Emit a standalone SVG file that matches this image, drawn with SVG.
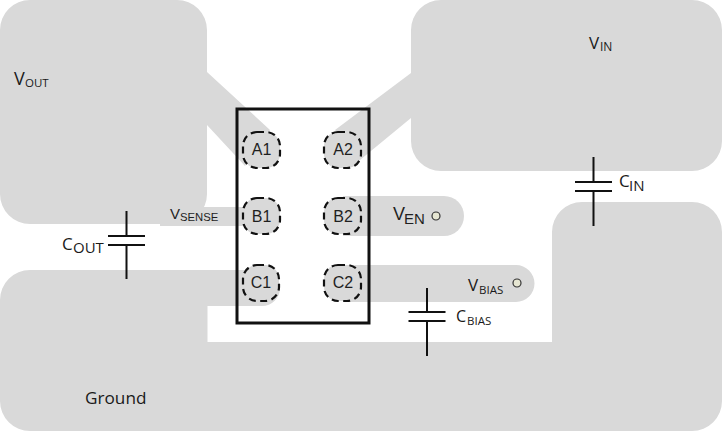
<svg xmlns="http://www.w3.org/2000/svg" width="723" height="432" viewBox="0 0 723 432">
<style>
.g{fill:#d9d9d9}
.t{font-family:"Open Sans","Noto Sans",sans-serif;fill:#1a1a1a}
.a{font-family:"Liberation Sans",Arial,sans-serif;fill:#1f1f1f}
.pad{fill:#d9d9d9;stroke:#111;stroke-width:2.2;stroke-dasharray:7 4.500}
.cap{stroke:#111;stroke-width:2;fill:none}
.pt{fill:#e6e6d2;stroke:#333;stroke-width:1.2}
</style>
<g id="copper">
<path id="vout" class="g" d="M30 0H177A30 30 0 0 1 207 30V72L270 130L245 166L207 125V194A30 30 0 0 1 177 224H30A30 30 0 0 1 0 194V30A30 30 0 0 1 30 0Z"/>
<path id="vin" class="g" d="M441 0H692A30 30 0 0 1 722 30V141A30 30 0 0 1 692 171H441A30 30 0 0 1 411 141V118L360 160L335 130L411 73V30A30 30 0 0 1 441 0Z"/>
<rect id="vsense" class="g" x="160" y="207" width="101" height="19"/>
<path id="ven" class="g" d="M343 196H444A20 20 0 0 1 444 236H343Z"/>
<path id="vbias" class="g" d="M343 265H516A18.500 18.500 0 0 1 516 302H343Z"/>
<path id="ground" class="g" d="M30 270H262A18 18 0 0 1 262 306H207.500V342H552V232A30 30 0 0 1 582 202H692A30 30 0 0 1 722 232V401A30 30 0 0 1 692 431H30A30 30 0 0 1 0 401V300A30 30 0 0 1 30 270Z"/>
</g>
<g id="connectors">
<path class="cap" d="M126.500 211V236M108 236H145M108 245H145M126.500 245V279"/>
<path class="cap" d="M593.500 157V182M575 182H612M575 191H612M593.500 191V226"/>
<path class="cap" d="M427 288V312M408.500 312H445.500M408.500 321H445.500M427 321V356"/>
</g>
<g id="device">
<rect x="237" y="109" width="132" height="214" fill="none" stroke="#111" stroke-width="3"/>
</g>
<g id="A1"><rect class="pad" x="243" y="132" width="37" height="36" rx="14"/><text class="a" x="261.500" y="155" font-size="16" text-anchor="middle">A1</text></g>
<g id="A2"><rect class="pad" x="324" y="132" width="37" height="36" rx="14"/><text class="a" x="343" y="155" font-size="16" text-anchor="middle">A2</text></g>
<g id="B1"><rect class="pad" x="243" y="198" width="37" height="36" rx="14"/><text class="a" x="261.500" y="222" font-size="16" text-anchor="middle">B1</text></g>
<g id="B2"><rect class="pad" x="324" y="198" width="37" height="36" rx="14"/><text class="a" x="343" y="222" font-size="16" text-anchor="middle">B2</text></g>
<g id="C1"><rect class="pad" x="243" y="265" width="36" height="36" rx="14"/><text class="a" x="261" y="288" font-size="16" text-anchor="middle">C1</text></g>
<g id="C2"><rect class="pad" x="324" y="265" width="37" height="36" rx="14"/><text class="a" x="343" y="288" font-size="16" text-anchor="middle">C2</text></g>
<g id="labels">
<text class="t" x="14" y="85" font-size="18">V</text><text class="t" x="25" y="87" font-size="11.500">OUT</text>
<text class="t" x="589" y="49" font-size="17">V</text><text class="t" x="600" y="51" font-size="12">IN</text>
<text class="a" x="170" y="219" font-size="15">V</text><text class="a" x="180" y="221" font-size="11.300">SENSE</text>
<text class="a" x="393" y="220" font-size="18">V</text><text class="a" x="404" y="224" font-size="15">EN</text>
<circle class="pt" cx="436" cy="216" r="4"/>
<text class="t" x="468" y="291" font-size="17">V</text><text class="t" x="479" y="294" font-size="11.500">BIAS</text>
<circle class="pt" cx="517" cy="283" r="4"/>
<text class="t" x="62" y="250" font-size="17">C</text><text class="t" x="73" y="253" font-size="15">OUT</text>
<text class="t" x="619" y="187" font-size="17">C</text><text class="t" x="629" y="191" font-size="15">IN</text>
<text class="t" x="456" y="322" font-size="16">C</text><text class="t" x="467" y="325" font-size="11.500">BIAS</text>
<text class="t" x="85" y="404" font-size="17.200">Ground</text>
</g>
</svg>
